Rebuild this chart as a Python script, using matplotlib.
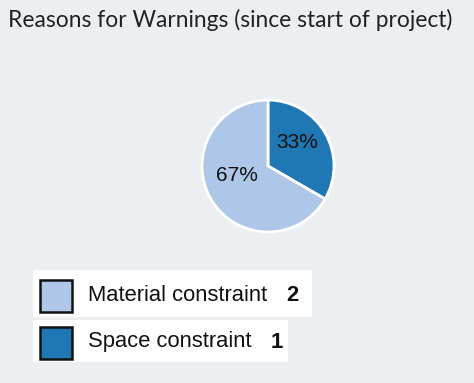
import matplotlib
matplotlib.use("Agg")
import matplotlib.pyplot as plt
from matplotlib.patches import Rectangle
import numpy as np

title = "Reasons for Warnings (since start of project)"
categories = ["Material constraint", "Space constraint"]
counts = [2, 1]
colors = ["#aec7e8", "#1f77b4"]

W, H = 474, 383
fig = plt.figure(figsize=(W/100, H/100), dpi=100)
fig.patch.set_facecolor("#eceff2")

fig.text(8/W, 1 - 20/H, title, fontsize=16.4, family="Lato", color="#222222", va="center", ha="left")

R = 66
cx, cy0 = 268, 166
ax = fig.add_axes([(cx-R)/W, 1-(cy0+R)/H, 2*R/W, 2*R/H])
ax.set_facecolor("none")
total = sum(counts)
wedges, texts = ax.pie(counts[::-1], colors=colors[::-1], startangle=90, counterclock=False,
                       wedgeprops=dict(edgecolor="white", linewidth=2))
ax.set_xlim(-1, 1)
ax.set_ylim(-1, 1)
label_shift = [(9, 0.565), (-12, 0.49)]
for w, c, (da, rr) in zip(wedges, counts[::-1], label_shift):
    ang = np.deg2rad((w.theta1 + w.theta2) / 2 + da)
    ax.text(rr*np.cos(ang), rr*np.sin(ang), f"{round(100*c/total)}%", ha="center", va="center",
            fontsize=15, family="Liberation Sans", color="#111111")

# legend rows
rows = [(270, 317, 312), (320, 362, 288)]
num_x = [286, 271]
for i, (cat, cnt, col) in enumerate(zip(categories, counts, colors)):
    y0, y1, x1 = rows[i]
    fig.patches.append(Rectangle((33/W, 1-y1/H), (x1-33)/W, (y1-y0)/H, transform=fig.transFigure,
                                 facecolor="white", edgecolor="none"))
    cy = (y0 + y1) / 2 + (2 if i == 0 else 1)
    fig.patches.append(Rectangle((40/W, 1-(cy+16.5)/H), 32/W, 32/H, transform=fig.transFigure,
                                 facecolor=col, edgecolor="#111111", linewidth=1.8))
    fig.text(88/W, 1-cy/H, cat, fontsize=15.8, family="Liberation Sans", va="center", ha="left", color="#111111")
    fig.text(num_x[i]/W, 1-cy/H, str(cnt), fontsize=15.8, family="Liberation Sans", weight="bold",
             va="center", ha="left", color="#111111")

fig.savefig("out.png", dpi=100, facecolor=fig.get_facecolor())
